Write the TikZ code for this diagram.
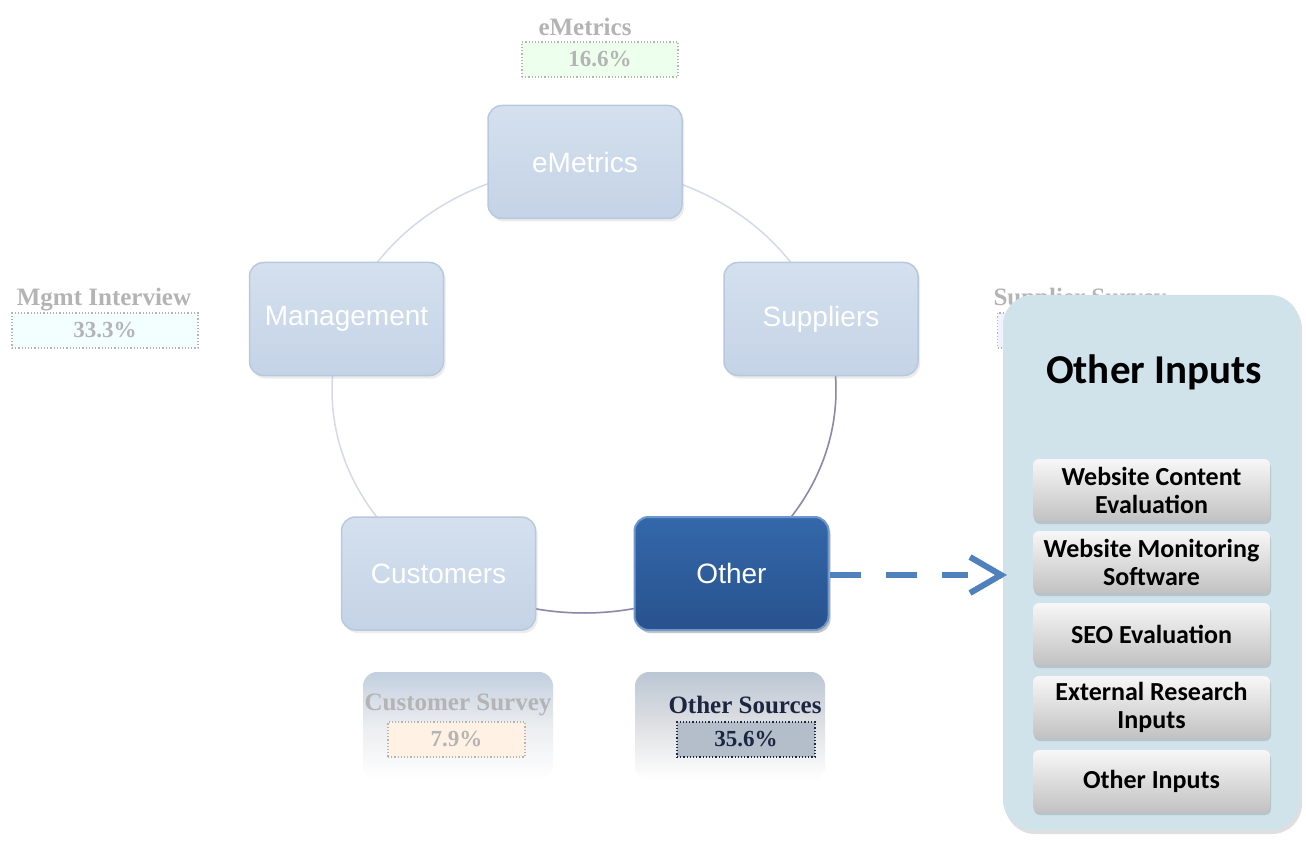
\documentclass[tikz,border=0pt]{standalone}
\usepackage{fontspec}
\setmainfont{Liberation Serif}
\newfontfamily\arialf{Liberation Sans}
\newfontfamily\calib{Carlito}
\usetikzlibrary{shadows,arrows.meta}
\definecolor{palefill}{HTML}{CAD8EA}
\definecolor{paletop}{HTML}{D4E0EE}
\definecolor{palebot}{HTML}{C4D3E6}
\definecolor{paledraw}{HTML}{B8C9DE}
\definecolor{othtop}{HTML}{3468AA}
\definecolor{othbot}{HTML}{28528E}
\definecolor{othdraw}{HTML}{6E98CC}
\definecolor{panelfill}{HTML}{D0E2EA}
\definecolor{arclight}{HTML}{D6D9E7}
\definecolor{arcdark}{HTML}{8C88AC}
\definecolor{arrowblue}{HTML}{4F81BD}
\definecolor{fadetext}{HTML}{B4B4B4}
\definecolor{navytext}{HTML}{1C2640}
\tikzset{
  cyclebox/.style={rectangle, rounded corners=14pt, minimum width=194pt, minimum height=113pt,
    top color=paletop, bottom color=palebot, draw=paledraw, line width=1.5pt,
    text=white, font=\arialf\fontsize{28}{32}\selectfont,
    drop shadow={opacity=0.15, shadow xshift=2pt, shadow yshift=-3pt}},
  otherbox/.style={cyclebox, top color=othtop, bottom color=othbot, draw=othdraw, line width=2pt,
    drop shadow={opacity=0.35, shadow xshift=2pt, shadow yshift=-3pt}},
  fadelabel/.style={font=\bfseries\fontsize{25}{28}\selectfont, text=fadetext},
  pctbox/.style={rectangle, draw=fadetext, dotted, line width=1.2pt, minimum height=35pt,
    font=\bfseries\fontsize{23}{25}\selectfont, text=fadetext},
  backbox/.style={rectangle, rounded corners=14pt, minimum width=190pt, minimum height=108pt,
    top color=#1, bottom color=white, middle color=white!85!#1},
  inbtn/.style={rectangle, rounded corners=6pt, minimum width=237pt, minimum height=62pt,
    top color=white!97!black, bottom color=white!76!black, align=center,
    font=\calib\bfseries\fontsize{26}{28}\selectfont, text=black,
    drop shadow={opacity=0.3, shadow xshift=1pt, shadow yshift=-3pt}},
  chev/.style={arrowblue, line width=6pt, line join=miter, line cap=butt},
}
\begin{document}
\begin{tikzpicture}[x=1pt,y=-1pt]
\useasboundingbox[fill=white] (0,0) rectangle (1306,850);
% cycle ring
\draw[arclight, line width=1.5pt] (584,390) ellipse [x radius=252, y radius=-223];
\draw[arcdark, line width=1.5pt] plot[domain=-4:112, samples=80] ({584+252*cos(\x)}, {390+223*sin(\x)});
% faded bottom backgrounds
\node[backbox=palefill!90!gray] (cbg) at (458,726) {};
\node[backbox=palefill!80!gray] (obg) at (730,726) {};
% cycle nodes
\node[cyclebox] (emet) at (585,162) {eMetrics};
\node[cyclebox] (mgmt) at (346.5,319) {Management};
\node[cyclebox] (supp) at (821,319) {Suppliers};
\node[cyclebox] (cust) at (438.5,573.5) {Customers};
\node[otherbox] (oth) at (731.5,573.5) {Other};
% percentage labels
\node[fadelabel] (lem) at (585,27) {eMetrics};
\node[pctbox, fill=green!7, minimum width=156pt] (pem) at (600,59.5) {16.6\%};
\node[fadelabel] (lmg) at (104,300) {Mgmt Interview};
\node[pctbox, fill=blue!6!cyan!5, minimum width=186pt] (pmg) at (105,330.5) {33.3\%};
\node[fadelabel, anchor=west] (lsu) at (990,300) {Supplier Survey};
\node[pctbox, fill=blue!5, minimum width=160pt, anchor=west] (psu) at (997,330.5) {};
\node[fadelabel] (lcs) at (458,705) {Customer Survey};
\node[pctbox, fill=orange!10, minimum width=137pt] (pcs) at (456.5,739.5) {7.9\%};
\node[fadelabel, text=navytext] (los) at (745,705) {Other Sources};
\node[pctbox, fill=palefill!70!gray, draw=navytext, text=navytext, minimum width=138pt] (pos) at (746,739.5) {35.6\%};
% panel
\node[rectangle, rounded corners=30pt, minimum width=297pt, minimum height=535pt, fill=panelfill,
  drop shadow={opacity=0.25, shadow xshift=2pt, shadow yshift=-4pt}] (panel) at (1151.5,562.5) {};
\node[font=\calib\bfseries\fontsize{41}{44}\selectfont, text=black] (ptitle) at (1154,372) {Other Inputs};
\node[inbtn] (b1) at (1151.5,490) {Website Content\\Evaluation};
\node[inbtn] (b2) at (1151.5,562) {Website Monitoring\\Software};
\node[inbtn] (b3) at (1151.5,634) {SEO Evaluation};
\node[inbtn] (b4) at (1151.5,707) {External Research\\Inputs};
\node[inbtn] (b5) at (1151.5,781) {Other Inputs};
% arrow
\coordinate (dashend) at (968,575);
\coordinate (tip) at (1001,575);
\coordinate (armtop) at (970,557);
\coordinate (armbot) at (970,593);
\draw[arrowblue, line width=6pt, dash pattern=on 31pt off 25pt] (oth.east |- dashend) -- (dashend);
\draw[chev] (armtop) -- (tip) -- (armbot);
\end{tikzpicture}
\end{document}
